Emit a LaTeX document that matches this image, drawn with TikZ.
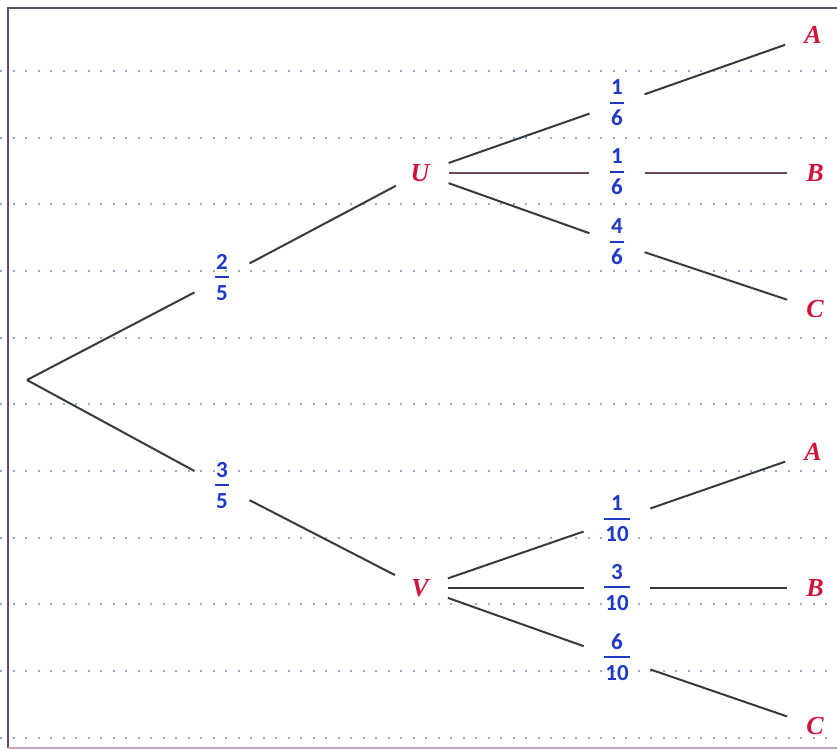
\documentclass[tikz,border=0pt]{standalone}
\usepackage{fontspec}
\setmainfont{Liberation Serif}
\newfontfamily\numfont{Carlito}
\definecolor{cRule}{HTML}{98AEC6}
\definecolor{cFrame}{HTML}{5E5267}
\definecolor{cBase}{HTML}{C9A3B9}
\definecolor{cEdge}{HTML}{353B3A}
\definecolor{cEdgeU}{HTML}{6A4B56}
\definecolor{cLeaf}{HTML}{D0143C}
\definecolor{cProb}{HTML}{1E38C8}
% stacked fraction: numerator, bar, denominator
\newcommand{\brfrac}[2]{{\renewcommand{\arraystretch}{0}\setlength{\arrayrulewidth}{2pt}%
  \begin{tabular}{@{\hspace{1.5pt}}c@{\hspace{1.5pt}}}\rule[-7pt]{0pt}{16pt}#1\\\hline\rule[-2pt]{0pt}{24pt}#2\end{tabular}}}
\tikzset{
  ruling/.style={draw=cRule, line width=2pt, dash pattern=on 2pt off 10.5pt},
  ev/.style={font=\fontsize{26}{30}\selectfont\bfseries\itshape, text=cLeaf, inner xsep=19pt, inner ysep=4pt},
  prob/.style={font=\fontsize{23}{27}\selectfont\numfont\bfseries, text=cProb, inner xsep=20pt, inner ysep=2pt},
  branch/.style={draw=cEdge, line width=2pt},
}

\begin{document}
\begin{tikzpicture}[x=1pt,y=-1pt]
\useasboundingbox (0,0) rectangle (837,751);
% ---------------- ruled paper and frame
\foreach \k in {0,...,10}{\draw[ruling] (0,{71+66.65*\k}) -- (837,{71+66.65*\k});}
\draw[cFrame, line width=2pt] (8,748) -- (8,8) -- (837,8);
\draw[cBase, line width=2pt] (8,748) -- (837,748);

% ---------------- first stage
\coordinate (o) at (27,380);
\node[prob] (pU) at (222,278) {\brfrac{2}{5}};
\node[prob] (pV) at (222,486) {\brfrac{3}{5}};
\node[ev] (U) at (420,173) {U};
\node[ev] (V) at (420,588) {V};
\draw[branch] (o) -- (pU) -- (U);
\draw[branch] (o) -- (pV) -- (V);

% ---------------- second stage after U
\node[prob] (uA) at (617,104) {\brfrac{1}{6}};
\node[prob] (uB) at (617,173) {\brfrac{1}{6}};
\node[prob] (uC) at (617,243) {\brfrac{4}{6}};
\node[ev] (A1) at (813,35) {A};
\node[ev] (B1) at (815,173) {B};
\node[ev] (C1) at (815,309) {C};
\draw[branch] (U) -- (uA) -- (A1);
\draw[branch, draw=cEdgeU] (U) -- (uB) -- (B1);
\draw[branch] (U) -- (uC) -- (C1);

% ---------------- second stage after V
\node[prob] (vA) at (617,520) {\brfrac{1}{10}};
\node[prob] (vB) at (617,588) {\brfrac{3}{10}};
\node[prob] (vC) at (617,658) {\brfrac{6}{10}};
\node[ev] (A2) at (813,452) {A};
\node[ev] (B2) at (815,588) {B};
\node[ev] (C2) at (815,726) {C};
\draw[branch] (V) -- (vA) -- (A2);
\draw[branch] (V) -- (vB) -- (B2);
\draw[branch] (V) -- (vC) -- (C2);
\end{tikzpicture}
\end{document}
